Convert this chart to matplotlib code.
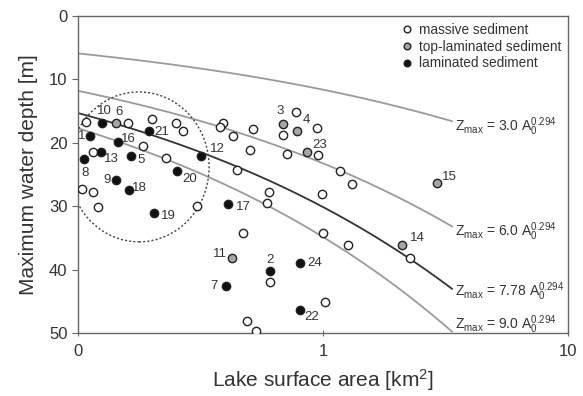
import matplotlib.pyplot as plt
import numpy as np
from matplotlib.patches import Ellipse

plt.rcParams["font.family"] = ["Liberation Sans", "DejaVu Sans"]
plt.rcParams["mathtext.fontset"] = "custom"
plt.rcParams["mathtext.rm"] = "Liberation Sans"
plt.rcParams["mathtext.it"] = "Liberation Sans"

# lakes with massive sediment (area in km2, max depth in m)
MASSIVE_AREA = [0.108, 0.160, 0.201, 0.251, 0.269, 0.185, 0.115, 0.229, 0.104, 0.115,
                0.121, 0.305, 0.390, 0.380, 0.431, 0.519, 0.504, 0.445, 0.604, 0.589,
                0.778, 0.685, 0.942, 0.714, 0.951, 1.17, 0.988, 1.31, 0.471, 1.00,
                1.26, 2.27, 0.610, 1.02, 0.491, 0.535]
MASSIVE_DEPTH = [16.7, 16.8, 16.2, 16.8, 18.1, 20.5, 21.5, 22.4, 27.3, 27.8,
                 30.2, 30.0, 16.8, 17.5, 19.0, 17.8, 21.1, 24.3, 27.7, 29.5,
                 15.2, 18.8, 17.6, 21.7, 22.0, 24.5, 28.0, 26.5, 34.3, 34.2,
                 36.1, 38.1, 42.0, 45.1, 48.1, 49.7]

# lakes with top-laminated sediment
TOP_ID = ["6", "3", "4", "23", "15", "14", "11"]
TOP_AREA = [0.143, 0.684, 0.785, 0.857, 2.91, 2.10, 0.424]
TOP_DEPTH = [16.8, 17.0, 18.2, 21.4, 26.3, 36.1, 38.1]

# lakes with laminated sediment
LAM_ID = ["10", "1", "16", "21", "8", "13", "5", "12", "20", "9", "18", "19",
          "17", "2", "24", "7", "22"]
LAM_AREA = [0.125, 0.112, 0.145, 0.194, 0.106, 0.124, 0.164, 0.318, 0.254, 0.143,
            0.161, 0.205, 0.410, 0.610, 0.805, 0.401, 0.805]
LAM_DEPTH = [16.9, 19.0, 19.8, 18.1, 22.6, 21.5, 22.1, 22.1, 24.4, 25.9,
             27.5, 31.1, 29.6, 40.2, 39.0, 42.6, 46.3]

# Zmax = c * A0^0.294 with A0 in ha
COEFFS = [3.0, 6.0, 7.78, 9.0]
COEFF_TEXT = ["3.0", "6.0", "7.78", "9.0"]
EXPONENT = 0.294
CURVE_END_KM2 = 3.36

# label offsets in pixels (dx, dy)
LABEL_OFFSET = {
    "10": (3, 12), "6": (3, 11), "1": (-8, 0), "16": (11, 3), "21": (13, -1),
    "13": (11, -7), "5": (10, -4), "8": (1, -14), "12": (16, 7), "20": (13, -8),
    "9": (-9, 0), "18": (11, 2), "19": (14, -3), "17": (15, -3), "3": (-2, 13),
    "4": (9, 11), "23": (13, 7), "15": (13, 6), "14": (15, 7), "11": (-12, 4),
    "2": (0, 11), "24": (15, 0), "7": (-12, 0), "22": (12, -7),
}
EQ_LABEL_Y = [0.650, 0.319, 0.129, 0.025]

TEXT = "#333333"
EDGE = "#222222"

fig = plt.figure(figsize=(5.83, 3.96), dpi=100)
ax = fig.add_axes([78 / 583, 1 - 333 / 396, 490 / 583, 317 / 396])

area = np.logspace(-1.2, np.log10(CURVE_END_KM2), 200)
for c in COEFFS:
    col = "#333333" if c == 7.78 else "#9a9a9a"
    ax.plot(area, c * (100 * area) ** EXPONENT, color=col, lw=1.3, zorder=1)

mk = dict(marker="o", ms=6, mew=1.0, mec=EDGE, ls="none", zorder=3)
ax.plot(MASSIVE_AREA, MASSIVE_DEPTH, mfc="white", label="massive sediment", **mk)
ax.plot(TOP_AREA, TOP_DEPTH, mfc="#a6a6a6", label="top-laminated sediment", **mk)
ax.plot(LAM_AREA, LAM_DEPTH, mfc="#111111", label="laminated sediment", **mk)

for ids, xs, ys in [(TOP_ID, TOP_AREA, TOP_DEPTH), (LAM_ID, LAM_AREA, LAM_DEPTH)]:
    for name, a, z in zip(ids, xs, ys):
        ax.annotate(name, (a, z), xytext=LABEL_OFFSET[name], textcoords="offset pixels",
                    ha="center", va="center", fontsize=9.5, color=TEXT, zorder=4)

for ct, ty in zip(COEFF_TEXT, EQ_LABEL_Y):
    ax.text(0.769, ty, r"Z$_{\mathregular{max}}$ = " + ct + r" A$_0^{\mathregular{0.294}}$",
            transform=ax.transAxes, ha="left", va="center", fontsize=10, color=TEXT)

ax.add_patch(Ellipse((0.1245, 0.524), 0.286, 0.473, transform=ax.transAxes,
                     fill=False, ls=(0, (1.5, 1.5)), lw=1.0, ec="#444444", zorder=2))

ax.set_xscale("log")
ax.set_xlim(0.1, 10)
ax.set_ylim(50, 0)
ax.set_xticks([0.1, 1, 10])
ax.set_xticklabels(["0", "1", "10"])
ax.xaxis.set_minor_locator(plt.NullLocator())
ax.set_yticks([0, 10, 20, 30, 40, 50])
ax.tick_params(axis="both", labelsize=12, colors="#666666", labelcolor=TEXT, length=4)
ax.tick_params(axis="x", direction="inout", pad=6)
for sp in ax.spines.values():
    sp.set_color("#666666")
    sp.set_linewidth(1.0)

ax.set_xlabel(r"Lake surface area [km$^\mathregular{2}$]", fontsize=15, color=TEXT, labelpad=6)
ax.set_ylabel("Maximum water depth [m]", fontsize=15, color=TEXT, labelpad=8)

ax.legend(loc="upper left", bbox_to_anchor=(0.64, 1.008), frameon=False, fontsize=9.8,
          handlelength=0.8, handletextpad=0.5, labelspacing=0.2, markerscale=0.8,
          borderpad=0.2, labelcolor=TEXT)

fig.savefig("out.png", dpi=100)
